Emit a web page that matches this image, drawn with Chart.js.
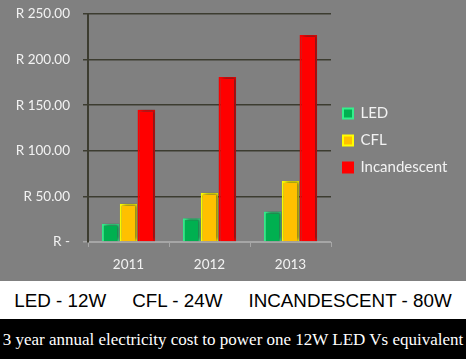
<!DOCTYPE html>
<html lang="en">
  <head>
    <meta charset="UTF-8" />
    <title>Electricity cost</title>
    <style>
      html, body { margin: 0; padding: 0; background: #000; }
      #wrap { width: 466px; height: 359px; position: relative; overflow: hidden; }
      #chartBox { width: 466px; height: 281px; background: #808080; position: relative; }
      #watts { height: 38px; background: #fff; font-family: "Liberation Sans", Arial, sans-serif; font-size: 18.8px; color: #000; line-height: 39px; text-align: center; white-space: pre; }
      #caption { height: 40px; background: #000; font-family: "Liberation Serif", "Times New Roman", serif; font-size: 17px; color: #fff; line-height: 42px; text-align: center; white-space: nowrap; }
    </style>
  </head>
  <body>
    <div id="wrap">
      <div id="chartBox"><canvas id="chartJSContainer"></canvas></div>
      <div id="watts">LED - 12W     CFL - 24W     INCANDESCENT - 80W</div>
      <div id="caption">3 year annual electricity cost to power one 12W LED Vs equivalent</div>
    </div>

    <script src="https://cdn.jsdelivr.net/npm/chart.js@4.4.0/dist/chart.umd.min.js"></script>
    <script>
      const years = ['2011', '2012', '2013']
      const led = [20, 26, 33.5]
      const cfl = [42, 54, 67]
      const incandescent = [145, 181, 227]
      const yTickLabels = ['R -', 'R 50.00', 'R 100.00', 'R 150.00', 'R 200.00', 'R 250.00']

      const font = { family: 'Lato, "Open Sans", sans-serif', size: 13.5 }

      const barShadow = {
        id: 'barShadow',
        beforeDatasetsDraw: (chart) => {
          const ctx = chart.ctx
          ctx.save()
          ctx.shadowColor = 'rgba(40,40,40,0.7)'
          ctx.shadowBlur = 4
          ctx.shadowOffsetX = 2
          ctx.shadowOffsetY = -1
        },
        afterDatasetsDraw: (chart) => {
          chart.ctx.restore()
        }
      }

      // wider legend box so the plot stops where the original one does
      const legendWidth = {
        id: 'legendWidth',
        afterInit: (chart) => {
          const lg = chart.legend
          const fit = lg.fit
          lg.fit = function () {
            fit.call(this)
            this.width = 135
          }
          const adjust = lg._adjustHitBoxes
          lg._adjustHitBoxes = function () {
            adjust.call(this)
            this.legendHitBoxes.forEach(h => { h.left += 8 })
          }
        }
      }

      const data = {
        labels: years,
        datasets: [
          { label: 'LED', data: led, backgroundColor: '#00b050', borderColor: '#33f08c', borderWidth: 2 },
          { label: 'CFL', data: cfl, backgroundColor: '#ffc000', borderColor: '#ffff00', borderWidth: 2 },
          { label: 'Incandescent', data: incandescent, backgroundColor: '#ff0000', borderColor: '#ff0000', borderWidth: 2 }
        ]
      }

      const options = {
        responsive: true,
        maintainAspectRatio: false,
        animation: false,
        layout: { padding: { top: 0, left: 12, right: 0, bottom: 0 } },
        datasets: { bar: { categoryPercentage: 0.66, barPercentage: 0.98, borderSkipped: 'bottom' } },
        scales: {
          x: {
            grid: { display: true, drawOnChartArea: false, offset: true, color: '#a6a6a6', tickLength: 5 },
            border: { color: '#a6a6a6' },
            ticks: { color: '#f2f2f2', font, padding: 10 },
            afterFit: (s) => { s.height = 39 }
          },
          y: {
            min: 0,
            max: 250,
            grid: { color: (c) => c.tick && c.tick.value === 0 ? '#a6a6a6' : '#3c3c30', tickLength: 5, lineWidth: 1.5 },
            border: { color: '#3c3c30', width: 2 },
            ticks: {
              stepSize: 50,
              color: '#f2f2f2',
              font,
              padding: 13,
              callback: (v) => yTickLabels[v / 50]
            },
            afterFit: (s) => { s.width = 76; s.paddingTop = 14 }
          }
        },
        plugins: {
          legend: {
            position: 'right',
            labels: { color: '#f2f2f2', font: { family: font.family, size: 15 }, boxWidth: 10, boxHeight: 10, padding: 12 }
          },
          tooltip: { enabled: false }
        }
      }

      const ctx = document.getElementById('chartJSContainer').getContext('2d')
      new Chart(ctx, { type: 'bar', data, options, plugins: [barShadow, legendWidth] })
    </script>
  </body>
</html>
